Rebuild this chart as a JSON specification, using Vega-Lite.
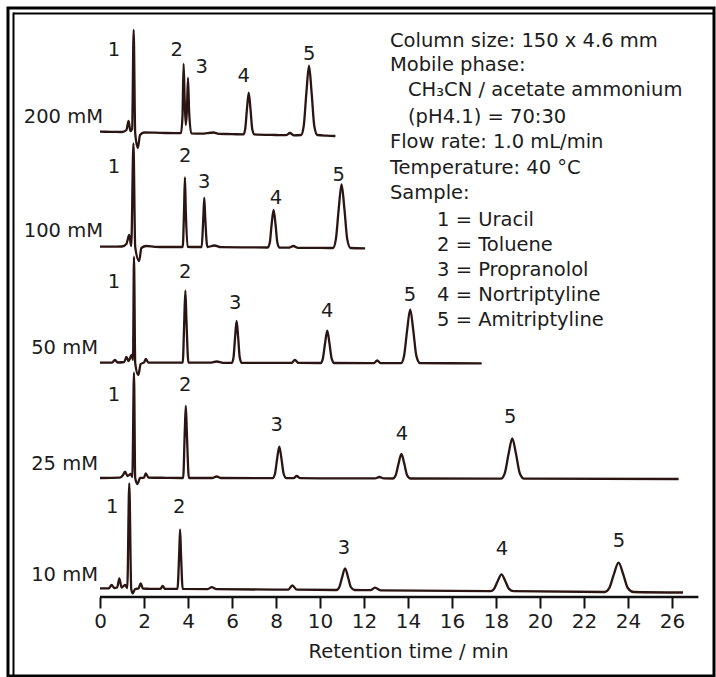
{
  "$schema": "https://vega.github.io/schema/vega-lite/v6.json",
  "width": 706,
  "height": 668,
  "autosize": {"type": "none"},
  "padding": {"left": 8, "top": 8, "right": 2, "bottom": 1},
  "background": "white",
  "config": {"view": {"stroke": "#000000", "strokeWidth": 3}, "font": "DejaVu Sans"},
  "datasets": {
    "traces": [
      {"c":"200 mM","t":0,"s":544.3},{"c":"200 mM","t":0.5,"s":544.2},{"c":"200 mM","t":1.0,"s":544},{"c":"200 mM","t":1.2,"s":546},{"c":"200 mM","t":1.3,"s":555},{"c":"200 mM","t":1.38,"s":545},{"c":"200 mM","t":1.46,"s":547},{"c":"200 mM","t":1.53,"s":646},{"c":"200 mM","t":1.6,"s":543},{"c":"200 mM","t":1.72,"s":528},{"c":"200 mM","t":1.82,"s":541},{"c":"200 mM","t":2.0,"s":543.5},{"c":"200 mM","t":2.5,"s":543.3},{"c":"200 mM","t":3.0,"s":543},{"c":"200 mM","t":3.68,"s":542.8},{"c":"200 mM","t":3.75,"s":560},{"c":"200 mM","t":3.8,"s":612},{"c":"200 mM","t":3.85,"s":575},{"c":"200 mM","t":3.9,"s":551},{"c":"200 mM","t":3.95,"s":565},{"c":"200 mM","t":4.0,"s":598},{"c":"200 mM","t":4.05,"s":565},{"c":"200 mM","t":4.15,"s":542.6},{"c":"200 mM","t":4.6,"s":542.4},{"c":"200 mM","t":5.15,"s":543.5},{"c":"200 mM","t":5.4,"s":542.1},{"c":"200 mM","t":6.0,"s":541.9},{"c":"200 mM","t":6.52,"s":541.6},{"c":"200 mM","t":6.6,"s":547},{"c":"200 mM","t":6.68,"s":567},{"c":"200 mM","t":6.76,"s":583.3},{"c":"200 mM","t":6.84,"s":567},{"c":"200 mM","t":6.92,"s":547},{"c":"200 mM","t":7.02,"s":541.6},{"c":"200 mM","t":8.0,"s":541},{"c":"200 mM","t":8.45,"s":540.8},{"c":"200 mM","t":8.64,"s":543},{"c":"200 mM","t":8.8,"s":540.7},{"c":"200 mM","t":9.14,"s":541},{"c":"200 mM","t":9.26,"s":550},{"c":"200 mM","t":9.38,"s":583},{"c":"200 mM","t":9.5,"s":610.3},{"c":"200 mM","t":9.62,"s":583},{"c":"200 mM","t":9.74,"s":550},{"c":"200 mM","t":9.88,"s":541},{"c":"200 mM","t":10.3,"s":540.3},{"c":"200 mM","t":10.7,"s":540},
      {"c":"100 mM","t":0,"s":429.3},{"c":"100 mM","t":0.5,"s":429.3},{"c":"100 mM","t":1.0,"s":429.5},{"c":"100 mM","t":1.2,"s":432},{"c":"100 mM","t":1.33,"s":441},{"c":"100 mM","t":1.42,"s":430},{"c":"100 mM","t":1.52,"s":532.7},{"c":"100 mM","t":1.6,"s":429},{"c":"100 mM","t":1.78,"s":415},{"c":"100 mM","t":1.88,"s":428},{"c":"100 mM","t":2.1,"s":430},{"c":"100 mM","t":2.5,"s":429.2},{"c":"100 mM","t":3.0,"s":429},{"c":"100 mM","t":3.76,"s":429},{"c":"100 mM","t":3.82,"s":465},{"c":"100 mM","t":3.86,"s":498.7},{"c":"100 mM","t":3.9,"s":465},{"c":"100 mM","t":3.98,"s":429.2},{"c":"100 mM","t":4.3,"s":429},{"c":"100 mM","t":4.62,"s":429},{"c":"100 mM","t":4.69,"s":455},{"c":"100 mM","t":4.74,"s":478.3},{"c":"100 mM","t":4.79,"s":455},{"c":"100 mM","t":4.88,"s":429},{"c":"100 mM","t":5.2,"s":430.5},{"c":"100 mM","t":5.5,"s":428.8},{"c":"100 mM","t":6.5,"s":428.6},{"c":"100 mM","t":7.63,"s":428.5},{"c":"100 mM","t":7.72,"s":433.6},{"c":"100 mM","t":7.8,"s":451.4},{"c":"100 mM","t":7.89,"s":466},{"c":"100 mM","t":7.98,"s":451.4},{"c":"100 mM","t":8.06,"s":433.6},{"c":"100 mM","t":8.15,"s":428.5},{"c":"100 mM","t":8.6,"s":428.3},{"c":"100 mM","t":8.79,"s":430},{"c":"100 mM","t":9.0,"s":428.2},{"c":"100 mM","t":10.0,"s":428.1},{"c":"100 mM","t":10.59,"s":428},{"c":"100 mM","t":10.72,"s":436.6},{"c":"100 mM","t":10.85,"s":466.9},{"c":"100 mM","t":10.98,"s":491.7},{"c":"100 mM","t":11.11,"s":466.9},{"c":"100 mM","t":11.24,"s":436.6},{"c":"100 mM","t":11.39,"s":428},{"c":"100 mM","t":12.05,"s":427.7},
      {"c":"50 mM","t":0,"s":313.3},{"c":"50 mM","t":0.55,"s":313.4},{"c":"50 mM","t":0.68,"s":316},{"c":"50 mM","t":0.8,"s":313.5},{"c":"50 mM","t":1.1,"s":314},{"c":"50 mM","t":1.2,"s":319},{"c":"50 mM","t":1.3,"s":315},{"c":"50 mM","t":1.44,"s":321},{"c":"50 mM","t":1.5,"s":316},{"c":"50 mM","t":1.545,"s":419.3},{"c":"50 mM","t":1.6,"s":313},{"c":"50 mM","t":1.74,"s":301},{"c":"50 mM","t":1.85,"s":312},{"c":"50 mM","t":2.0,"s":313.5},{"c":"50 mM","t":2.08,"s":317},{"c":"50 mM","t":2.2,"s":313.5},{"c":"50 mM","t":3.0,"s":313.3},{"c":"50 mM","t":3.76,"s":313.3},{"c":"50 mM","t":3.83,"s":355},{"c":"50 mM","t":3.88,"s":385.3},{"c":"50 mM","t":3.93,"s":355},{"c":"50 mM","t":4.02,"s":313.3},{"c":"50 mM","t":5.0,"s":313.3},{"c":"50 mM","t":5.3,"s":314.5},{"c":"50 mM","t":5.6,"s":313.2},{"c":"50 mM","t":6.0,"s":313.2},{"c":"50 mM","t":6.07,"s":318.8},{"c":"50 mM","t":6.14,"s":338.7},{"c":"50 mM","t":6.21,"s":355},{"c":"50 mM","t":6.28,"s":338.7},{"c":"50 mM","t":6.35,"s":318.8},{"c":"50 mM","t":6.44,"s":313.2},{"c":"50 mM","t":8.7,"s":313.1},{"c":"50 mM","t":8.86,"s":316},{"c":"50 mM","t":9.02,"s":313.1},{"c":"50 mM","t":10.03,"s":313},{"c":"50 mM","t":10.13,"s":317.4},{"c":"50 mM","t":10.23,"s":332.7},{"c":"50 mM","t":10.33,"s":345.3},{"c":"50 mM","t":10.43,"s":332.7},{"c":"50 mM","t":10.53,"s":317.4},{"c":"50 mM","t":10.65,"s":313},{"c":"50 mM","t":12.45,"s":312.9},{"c":"50 mM","t":12.6,"s":315.5},{"c":"50 mM","t":12.75,"s":312.9},{"c":"50 mM","t":13.68,"s":312.8},{"c":"50 mM","t":13.82,"s":320.1},{"c":"50 mM","t":13.96,"s":345.7},{"c":"50 mM","t":14.1,"s":366.7},{"c":"50 mM","t":14.24,"s":345.7},{"c":"50 mM","t":14.38,"s":320.1},{"c":"50 mM","t":14.55,"s":312.8},{"c":"50 mM","t":17.35,"s":312.7},
      {"c":"25 mM","t":0,"s":198},{"c":"25 mM","t":0.9,"s":198.3},{"c":"25 mM","t":1.05,"s":201},{"c":"25 mM","t":1.14,"s":204.3},{"c":"25 mM","t":1.25,"s":200},{"c":"25 mM","t":1.4,"s":202},{"c":"25 mM","t":1.47,"s":199},{"c":"25 mM","t":1.545,"s":303.3},{"c":"25 mM","t":1.6,"s":198},{"c":"25 mM","t":1.7,"s":192},{"c":"25 mM","t":1.82,"s":198},{"c":"25 mM","t":2.0,"s":198.4},{"c":"25 mM","t":2.08,"s":202.7},{"c":"25 mM","t":2.2,"s":198.5},{"c":"25 mM","t":3.0,"s":198.2},{"c":"25 mM","t":3.78,"s":198},{"c":"25 mM","t":3.85,"s":242},{"c":"25 mM","t":3.9,"s":270},{"c":"25 mM","t":3.95,"s":242},{"c":"25 mM","t":4.04,"s":198},{"c":"25 mM","t":5.1,"s":198},{"c":"25 mM","t":5.3,"s":199.5},{"c":"25 mM","t":5.5,"s":198},{"c":"25 mM","t":7.85,"s":197.8},{"c":"25 mM","t":7.95,"s":202},{"c":"25 mM","t":8.05,"s":217},{"c":"25 mM","t":8.15,"s":229.3},{"c":"25 mM","t":8.25,"s":217},{"c":"25 mM","t":8.35,"s":202},{"c":"25 mM","t":8.47,"s":197.8},{"c":"25 mM","t":8.8,"s":197.8},{"c":"25 mM","t":8.94,"s":200},{"c":"25 mM","t":9.1,"s":197.8},{"c":"25 mM","t":12.5,"s":197.6},{"c":"25 mM","t":12.7,"s":199},{"c":"25 mM","t":12.9,"s":197.6},{"c":"25 mM","t":13.31,"s":197.5},{"c":"25 mM","t":13.44,"s":200.8},{"c":"25 mM","t":13.57,"s":212.4},{"c":"25 mM","t":13.7,"s":222},{"c":"25 mM","t":13.83,"s":212.4},{"c":"25 mM","t":13.96,"s":200.8},{"c":"25 mM","t":14.12,"s":197.5},{"c":"25 mM","t":18.23,"s":197.3},{"c":"25 mM","t":18.4,"s":202.8},{"c":"25 mM","t":18.57,"s":221.9},{"c":"25 mM","t":18.74,"s":237.7},{"c":"25 mM","t":18.91,"s":221.9},{"c":"25 mM","t":19.08,"s":202.8},{"c":"25 mM","t":19.28,"s":197.3},{"c":"25 mM","t":26.3,"s":197},
      {"c":"10 mM","t":0,"s":87.7},{"c":"10 mM","t":0.4,"s":87.7},{"c":"10 mM","t":0.53,"s":91},{"c":"10 mM","t":0.65,"s":88},{"c":"10 mM","t":0.78,"s":88.5},{"c":"10 mM","t":0.88,"s":97.7},{"c":"10 mM","t":0.98,"s":88.5},{"c":"10 mM","t":1.14,"s":91},{"c":"10 mM","t":1.24,"s":88},{"c":"10 mM","t":1.33,"s":192.7},{"c":"10 mM","t":1.42,"s":87},{"c":"10 mM","t":1.49,"s":82.7},{"c":"10 mM","t":1.6,"s":87},{"c":"10 mM","t":1.75,"s":87.5},{"c":"10 mM","t":1.85,"s":92.7},{"c":"10 mM","t":1.95,"s":87.5},{"c":"10 mM","t":2.3,"s":87.2},{"c":"10 mM","t":2.75,"s":87.2},{"c":"10 mM","t":2.85,"s":90},{"c":"10 mM","t":2.95,"s":87.2},{"c":"10 mM","t":3.52,"s":87.1},{"c":"10 mM","t":3.6,"s":123},{"c":"10 mM","t":3.64,"s":146.7},{"c":"10 mM","t":3.68,"s":123},{"c":"10 mM","t":3.76,"s":87.1},{"c":"10 mM","t":4.9,"s":86.9},{"c":"10 mM","t":5.08,"s":88.8},{"c":"10 mM","t":5.3,"s":86.9},{"c":"10 mM","t":8.55,"s":86.3},{"c":"10 mM","t":8.74,"s":90.5},{"c":"10 mM","t":8.95,"s":86.3},{"c":"10 mM","t":10.75,"s":86},{"c":"10 mM","t":10.88,"s":89},{"c":"10 mM","t":11.01,"s":99.2},{"c":"10 mM","t":11.14,"s":107.7},{"c":"10 mM","t":11.27,"s":99.2},{"c":"10 mM","t":11.4,"s":89},{"c":"10 mM","t":11.57,"s":86},{"c":"10 mM","t":12.3,"s":85.8},{"c":"10 mM","t":12.5,"s":88.3},{"c":"10 mM","t":12.75,"s":85.7},{"c":"10 mM","t":17.74,"s":84.8},{"c":"10 mM","t":17.91,"s":87.1},{"c":"10 mM","t":18.08,"s":95.1},{"c":"10 mM","t":18.25,"s":101.7},{"c":"10 mM","t":18.42,"s":95.1},{"c":"10 mM","t":18.59,"s":87.1},{"c":"10 mM","t":18.8,"s":84.8},{"c":"10 mM","t":22.94,"s":84},{"c":"10 mM","t":23.15,"s":88},{"c":"10 mM","t":23.36,"s":101.9},{"c":"10 mM","t":23.57,"s":113.3},{"c":"10 mM","t":23.78,"s":101.9},{"c":"10 mM","t":23.99,"s":88},{"c":"10 mM","t":24.25,"s":84},{"c":"10 mM","t":26.5,"s":83.5}
    ],
    "peaks": [
      {"t":0.636,"s":626,"label":"1"},{"t":3.486,"s":626,"label":"2"},{"t":4.623,"s":609.3,"label":"3"},{"t":6.532,"s":600,"label":"4"},{"t":9.514,"s":622,"label":"5"},
      {"t":0.636,"s":509.3,"label":"1"},{"t":3.877,"s":520,"label":"2"},{"t":4.74,"s":494.3,"label":"3"},{"t":8.0,"s":477.7,"label":"4"},{"t":10.85,"s":501,"label":"5"},
      {"t":0.636,"s":394.3,"label":"1"},{"t":3.877,"s":404.3,"label":"2"},{"t":6.15,"s":373.3,"label":"3"},{"t":10.33,"s":365,"label":"4"},{"t":14.09,"s":381,"label":"5"},
      {"t":0.636,"s":281,"label":"1"},{"t":3.877,"s":291,"label":"2"},{"t":8.03,"s":251,"label":"3"},{"t":13.73,"s":242,"label":"4"},{"t":18.64,"s":259,"label":"5"},
      {"t":0.56,"s":169.3,"label":"1"},{"t":3.6,"s":169.3,"label":"2"},{"t":11.09,"s":127.7,"label":"3"},{"t":18.27,"s":127,"label":"4"},{"t":23.59,"s":135,"label":"5"}
    ],
    "conc": [
      {"t":0.136,"s":559,"label":"200 mM"},
      {"t":0.136,"s":445,"label":"100 mM"},
      {"t":-0.09,"s":327.7,"label":"50 mM"},
      {"t":-0.09,"s":212,"label":"25 mM"},
      {"t":-0.09,"s":101,"label":"10 mM"}
    ],
    "info": [
      {"t":13.18,"s":635.3,"label":"Column size: 150 x 4.6 mm"},
      {"t":13.18,"s":611,"label":"Mobile phase:"},
      {"t":14.0,"s":586,"label":"CH₃CN / acetate ammonium"},
      {"t":14.0,"s":559.3,"label":"(pH4.1) = 70:30"},
      {"t":13.18,"s":534.3,"label":"Flow rate: 1.0 mL/min"},
      {"t":13.18,"s":508,"label":"Temperature: 40 °C"},
      {"t":13.18,"s":483,"label":"Sample:"},
      {"t":15.32,"s":456,"label":"1 = Uracil"},
      {"t":15.32,"s":431,"label":"2 = Toluene"},
      {"t":15.32,"s":406,"label":"3 = Propranolol"},
      {"t":15.32,"s":381,"label":"4 = Nortriptyline"},
      {"t":15.32,"s":356,"label":"5 = Amitriptyline"}
    ]
  },
  "layer": [
    {
      "data": {"name": "traces"},
      "mark": {"type": "line", "color": "#2b1512", "strokeWidth": 2.3, "interpolate": "monotone"},
      "encoding": {
        "x": {"field": "t", "type": "quantitative", "scale": {"domain": [-4.1818, 27.909], "nice": false, "zero": false},
          "axis": {"values": [0,2,4,6,8,10,12,14,16,18,20,22,24,26], "domain": false, "grid": false, "offset": -79,
            "tickSize": 11, "tickWidth": 2, "tickColor": "#111111",
            "labelFont": "DejaVu Sans", "labelFontSize": 20, "labelColor": "#1c1c1c", "labelPadding": 3,
            "title": "Retention time / min", "titleFont": "DejaVu Sans", "titleFontSize": 19.5, "titleFontWeight": "normal",
            "titleColor": "#1c1c1c", "titleX": 400, "titleY": 54, "titleBaseline": "middle", "titleAlign": "center"}},
        "y": {"field": "s", "type": "quantitative", "scale": {"domain": [0, 668], "nice": false, "zero": false}, "axis": null},
        "detail": {"field": "c", "type": "nominal"}
      }
    },
    {
      "data": {"values": [{}]},
      "mark": {"type": "rule", "color": "#111111", "strokeWidth": 2.5},
      "encoding": {
        "x": {"datum": 0, "type": "quantitative"},
        "x2": {"datum": 27.2},
        "y": {"datum": 79, "type": "quantitative"}
      }
    },
    {
      "data": {"values": [{}]},
      "mark": {"type": "rule", "color": "#000000", "strokeWidth": 2},
      "encoding": {
        "x": {"datum": -3.932, "type": "quantitative"},
        "y": {"datum": 0, "type": "quantitative"},
        "y2": {"datum": 663.5}
      }
    },
    {
      "data": {"values": [{}]},
      "mark": {"type": "rule", "color": "#000000", "strokeWidth": 2},
      "encoding": {
        "x": {"datum": -3.932, "type": "quantitative"},
        "x2": {"datum": 27.909},
        "y": {"datum": 662.5, "type": "quantitative"}
      }
    },
    {
      "data": {"name": "peaks"},
      "mark": {"type": "text", "font": "DejaVu Sans", "fontSize": 19.5, "color": "#1c1c1c", "baseline": "middle", "align": "center"},
      "encoding": {
        "x": {"field": "t", "type": "quantitative"},
        "y": {"field": "s", "type": "quantitative"},
        "text": {"field": "label"}
      }
    },
    {
      "data": {"name": "conc"},
      "mark": {"type": "text", "font": "DejaVu Sans", "fontSize": 19.5, "color": "#1c1c1c", "baseline": "middle", "align": "right"},
      "encoding": {
        "x": {"field": "t", "type": "quantitative"},
        "y": {"field": "s", "type": "quantitative"},
        "text": {"field": "label"}
      }
    },
    {
      "data": {"name": "info"},
      "mark": {"type": "text", "font": "DejaVu Sans", "fontSize": 19.5, "color": "#1c1c1c", "baseline": "middle", "align": "left"},
      "encoding": {
        "x": {"field": "t", "type": "quantitative"},
        "y": {"field": "s", "type": "quantitative"},
        "text": {"field": "label"}
      }
    }
  ]
}
